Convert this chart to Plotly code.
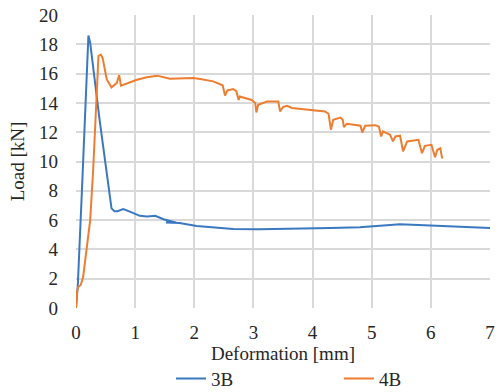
import plotly.graph_objects as go

# 3B series
x_3b = [0, 0.03, 0.1, 0.19, 0.21, 0.24, 0.4, 0.6, 0.65, 0.7, 0.8, 0.91, 1.08, 1.2, 1.34, 1.48, 1.6, 1.7,
        1.52, 1.75, 2.04, 2.3, 2.66, 3.1, 3.5, 3.96, 4.3, 4.8, 5.03, 5.48, 5.99, 6.55, 7.03]
y_3b = [0, 1.5, 8.0, 17.8, 18.6, 18.1, 12.8, 6.8, 6.6, 6.6, 6.75, 6.58, 6.29, 6.25, 6.29, 6.06, 5.9, 5.82,
        5.84, 5.8, 5.6, 5.5, 5.4, 5.38, 5.4, 5.45, 5.46, 5.52, 5.6, 5.72, 5.63, 5.56, 5.45]

# 4B series
x_4b = [0, 0.02, 0.04, 0.08, 0.12, 0.18, 0.24, 0.29, 0.35, 0.38, 0.42, 0.45, 0.52, 0.6, 0.69, 0.73, 0.76,
        0.85, 1.03, 1.2, 1.37, 1.59, 1.98, 2.1, 2.32, 2.48, 2.52, 2.56, 2.66, 2.71, 2.75, 2.77, 2.97, 3.03,
        3.05, 3.08, 3.23, 3.42, 3.45, 3.50, 3.57, 3.65, 3.96, 4.21, 4.27, 4.31, 4.35, 4.47, 4.51, 4.53, 4.58,
        4.81, 4.84, 4.89, 5.06, 5.12, 5.16, 5.19, 5.31, 5.36, 5.40, 5.48, 5.53, 5.60, 5.79, 5.85, 5.90, 6.01,
        6.07, 6.11, 6.16, 6.19, 6.2]
y_4b = [0, 1.2, 1.45, 1.57, 2.1, 4.0, 6.0, 9.4, 14.0, 17.2, 17.3, 17.07, 15.6, 15.06, 15.36, 15.9, 15.17,
        15.3, 15.58, 15.75, 15.86, 15.65, 15.7, 15.63, 15.47, 15.2, 14.5, 14.85, 14.95, 14.8, 14.2, 14.44,
        14.2, 14.0, 13.35, 13.87, 14.1, 14.1, 13.42, 13.72, 13.8, 13.65, 13.53, 13.42, 13.26, 12.17, 12.85,
        13.0, 12.85, 12.35, 12.58, 12.44, 11.98, 12.44, 12.48, 12.39, 11.71, 12.05, 11.82, 11.37, 11.71,
        11.76, 10.7, 11.37, 11.48, 10.57, 11.07, 11.14, 10.3, 10.8, 10.9, 10.23, 10.3]

x_ticks = [0, 1, 2, 3, 4, 5, 6, 7]
y_ticks = [0, 2, 4, 6, 8, 10, 12, 14, 16, 18, 20]

font_family = "Liberation Serif, Times New Roman, serif"
text_color = "#262626"
grid_color = "#d9d9d9"

fig = go.Figure()
fig.add_trace(go.Scatter(x=x_3b, y=y_3b, mode="lines", name="3B", legend="legend",
                         line=dict(color="#3a78c0", width=2)))
fig.add_trace(go.Scatter(x=x_4b, y=y_4b, mode="lines", name="4B", legend="legend2",
                         line=dict(color="#ed7d31", width=2)))

leg_common = dict(orientation="h", yanchor="middle", y=-0.2413, xanchor="left",
                  font=dict(family=font_family, size=19, color=text_color),
                  bgcolor="rgba(0,0,0,0)", borderwidth=0, itemwidth=30)

fig.update_layout(
    width=500, height=392, autosize=False,
    margin=dict(l=76, r=10, t=15, b=84, autoexpand=False),
    paper_bgcolor="white", plot_bgcolor="white",
    font=dict(family=font_family, size=19, color=text_color),
    showlegend=True,
    legend=dict(leg_common, x=0.2295),
    legend2=dict(leg_common, x=0.635),
)
fig.update_xaxes(range=[0, 7], tickvals=x_ticks, ticktext=[str(v) for v in x_ticks],
                 showgrid=True, gridcolor=grid_color, gridwidth=1.5, zeroline=False,
                 showline=False, ticks="", automargin=False, ticklabelstandoff=11,
                 title=dict(text="Deformation [mm]", standoff=2,
                            font=dict(family=font_family, size=19, color=text_color)),
                 tickfont=dict(family=font_family, size=19, color=text_color))
fig.update_yaxes(range=[0, 20], tickvals=y_ticks, ticktext=[str(v) for v in y_ticks],
                 showgrid=True, gridcolor=grid_color, gridwidth=1.5, zeroline=False,
                 showline=False, ticks="", automargin=False, ticklabelstandoff=17,
                 title=dict(text="Load [kN]", standoff=9,
                            font=dict(family=font_family, size=19, color=text_color)),
                 tickfont=dict(family=font_family, size=19, color=text_color))

# remove the page's default body margin so the 500x392 figure fills the window exactly
fig.write_html("out.html", config={"displayModeBar": False},
               post_script="document.body.style.margin='0';")
